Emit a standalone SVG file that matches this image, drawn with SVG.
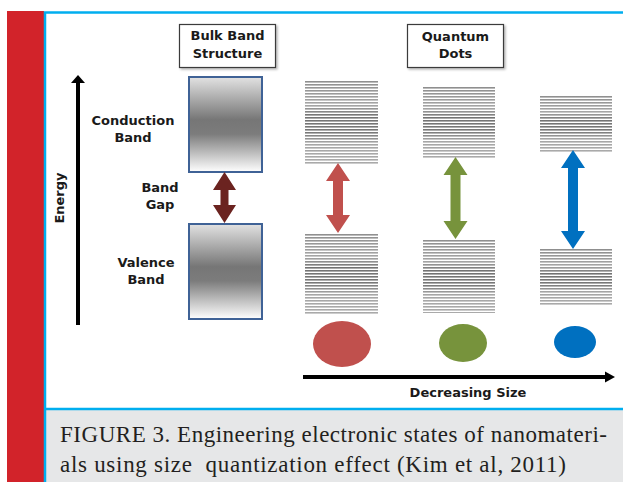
<svg xmlns="http://www.w3.org/2000/svg" width="623" height="482" viewBox="0 0 623 482">
<style>
.lbl{font-family:"DejaVu Sans","Liberation Sans",sans-serif;font-weight:bold;font-size:13px;fill:#1a1a1a;text-anchor:middle}
.cap{font-family:"Liberation Serif","DejaVu Serif",serif;font-size:23px;fill:#231f20;white-space:pre}
.frame{stroke:#00aeef;stroke-width:2.5;fill:none}
.box{fill:#fff;stroke:#3a3a3a;stroke-width:1.2}
.bulk{fill:url(#bulkGrad);stroke:#3f6296;stroke-width:2}
.levels{fill:url(#lvlGrad);mask:url(#stripeMask)}
.axis{stroke:#000;stroke-width:4;fill:none}
</style>
<defs>
<linearGradient id="bulkGrad" x1="0" y1="0" x2="0" y2="1">
<stop offset="0" stop-color="#e2e2e2"/>
<stop offset="0.45" stop-color="#767676"/>
<stop offset="0.6" stop-color="#7c7c7c"/>
<stop offset="1" stop-color="#ffffff"/>
</linearGradient>
<linearGradient id="lvlGrad" x1="0" y1="0" x2="0" y2="1">
<stop offset="0" stop-color="#8e8e8e"/>
<stop offset="0.3" stop-color="#a6a6a6"/>
<stop offset="0.42" stop-color="#737373"/>
<stop offset="0.62" stop-color="#787878"/>
<stop offset="0.75" stop-color="#a6a6a6"/>
<stop offset="1" stop-color="#aaaaaa"/>
</linearGradient>
<pattern id="stripes" width="10" height="3" patternUnits="userSpaceOnUse">
<rect width="10" height="1.6" fill="#fff"/>
</pattern>
<mask id="stripeMask" maskUnits="userSpaceOnUse" x="0" y="0" width="623" height="482">
<rect width="623" height="482" fill="url(#stripes)"/>
</mask>
<filter id="shadow" x="-10%" y="-10%" width="130%" height="130%">
<feDropShadow dx="1.5" dy="1.5" stdDeviation="1" flood-color="#000" flood-opacity="0.3"/>
</filter>
</defs>

<g id="page">
<rect x="0" y="0" width="623" height="482" fill="#fff"/>
<rect x="7" y="11" width="37" height="471" fill="#d2232a"/>
<rect x="45" y="410" width="578" height="72" fill="#e6e7e8"/>
<path class="frame" d="M45,482 V12.5 H623"/>
<path class="frame" d="M45,409 H623"/>
</g>

<g id="bulk-title">
<rect class="box" x="179.5" y="24.5" width="96" height="43" filter="url(#shadow)"/>
<text class="lbl" x="227.5" y="40">Bulk Band</text>
<text class="lbl" x="227.5" y="58">Structure</text>
</g>

<g id="qd-title">
<rect class="box" x="407.5" y="24.5" width="96" height="43" filter="url(#shadow)"/>
<text class="lbl" x="455.5" y="41">Quantum</text>
<text class="lbl" x="455.5" y="58">Dots</text>
</g>

<g id="energy-axis">
<text class="lbl" font-size="12.5" transform="translate(64,198) rotate(-90)">Energy</text>
</g>

<g id="conduction-label">
<text class="lbl" x="133" y="125">Conduction</text>
<text class="lbl" x="133" y="142">Band</text>
</g>
<g id="gap-label">
<text class="lbl" x="160" y="192">Band</text>
<text class="lbl" x="160" y="209">Gap</text>
</g>
<g id="valence-label">
<text class="lbl" x="146" y="267">Valence</text>
<text class="lbl" x="146" y="284">Band</text>
</g>

<g id="bulk-conduction"><rect class="bulk" x="189" y="77" width="73" height="95"/></g>
<g id="bulk-valence"><rect class="bulk" x="189" y="224" width="73" height="95"/></g>

<g id="qd-large">
<rect class="levels" x="305" y="80" width="73" height="84"/>
<rect class="levels" x="305" y="233" width="73" height="81"/>
</g>
<g id="qd-medium">
<rect class="levels" x="423" y="87" width="72" height="71"/>
<rect class="levels" x="423" y="239" width="72" height="74"/>
</g>
<g id="qd-small">
<rect class="levels" x="540" y="95" width="72" height="58"/>
<rect class="levels" x="540" y="249" width="72" height="57"/>
</g>

<g id="dot-large"><ellipse cx="342" cy="344" rx="29" ry="23" fill="#c0504d"/></g>
<g id="dot-medium"><ellipse cx="463" cy="343" rx="24" ry="19" fill="#77933c"/></g>
<g id="dot-small"><ellipse cx="575" cy="342" rx="21" ry="16" fill="#0070c0"/></g>

<g id="size-label">
<text class="lbl" font-size="11.5" x="468" y="397">Decreasing Size</text>
</g>

<g id="connectors">
<line class="axis" x1="78" y1="325" x2="78" y2="81"/>
<path d="M78,75 L85,83 L71,83 Z" fill="#000"/>
<line class="axis" x1="303" y1="377" x2="607" y2="377"/>
<path d="M615,377 L605,371.5 L605,382.5 Z" fill="#000"/>
<path fill="#6b2320" d="M224.5,172 L236,190 L228.5,190 L228.5,205 L236,205 L224.5,223 L213,205 L220.5,205 L220.5,190 L213,190 Z"/>
<path fill="#c0504d" d="M338,163 L350,181 L343,181 L343,215 L350,215 L338,233 L326,215 L333,215 L333,181 L326,181 Z"/>
<path fill="#77933c" d="M455.5,157 L467.5,175 L460.5,175 L460.5,221 L467.5,221 L455.5,239 L443.5,221 L450.5,221 L450.5,175 L443.5,175 Z"/>
<path fill="#0070c0" d="M573,150 L585,168 L578,168 L578,231 L585,231 L573,249 L561,231 L568,231 L568,168 L561,168 Z"/>
</g>

<g id="caption">
<text class="cap" x="60" y="442" textLength="547">FIGURE 3. Engineering electronic states of nanomateri-</text>
<text class="cap" x="60" y="472" textLength="506">als using size  quantization effect (Kim et al, 2011)</text>
</g>
</svg>
